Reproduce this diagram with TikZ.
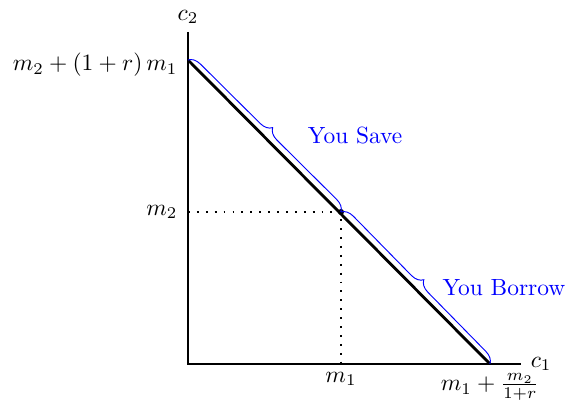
\documentclass[tikz,border=0pt]{standalone}
\usepackage{amsmath}
\usetikzlibrary{calc,decorations.pathreplacing,positioning}
\colorlet{braceC}{blue}

\begin{document}
\begin{tikzpicture}[x=0.015cm, y=0.015cm,
    axis/.style={thick},
    budget/.style={very thick},
    guide/.style={thick, dash pattern=on 0.8pt off 3pt},
    sidebrace/.style={braceC, thin, decorate, decoration={brace, amplitude=5pt}},
    bracelab/.style={braceC}]
  \useasboundingbox (0,0) rectangle (571,408);

  % Axes
  \coordinate (O) at (188,44);
  \coordinate (Xend) at (521,44);
  \coordinate (Yend) at (188,376);
  \draw[axis] (Yend) -- (O) -- (Xend);
  \node[above=0pt of Yend] (lc2) {$c_2$};
  \node[right=3pt of Xend, inner sep=1pt] (lc1) {$c_1$};

  % Budget line and endowment point
  \coordinate (A) at (188,348);   % all saved
  \coordinate (B) at (490,44);    % all borrowed
  \coordinate (E) at (341,196);   % endowment (m_1, m_2)
  \draw[budget] (A) -- (B);

  % Dotted guides to the axes
  \coordinate (Ex) at (E |- O);
  \coordinate (Ey) at (E -| O);
  \draw[guide] (Ey) -- (E) -- (Ex);
  \fill (E) circle (1.3pt);

  % Intercepts and endowment labels
  \node[left=1pt of A, yshift=-2pt] (lA) {$m_2 + (1+r)\,m_1$};
  \node[left=1pt of Ey] (lm2) {$m_2$};
  \node[below=0pt of Ex] (lm1) {$m_1$};
  \node[below=3pt of B, inner sep=1pt] (lB) {$m_1 + \frac{m_2}{1+r}$};

  % Braces along the budget line
  \draw[sidebrace] (A) -- (E);
  \draw[sidebrace] (E) -- (B);
  \coordinate (mAE) at ($(A)!0.5!(E)$);
  \coordinate (mEB) at ($(E)!0.5!(B)$);
  \node[bracelab, right=15pt of mAE] (save) {You Save};
  \node[bracelab, right=8pt of mEB] (borrow) {You Borrow};
\end{tikzpicture}
\end{document}
